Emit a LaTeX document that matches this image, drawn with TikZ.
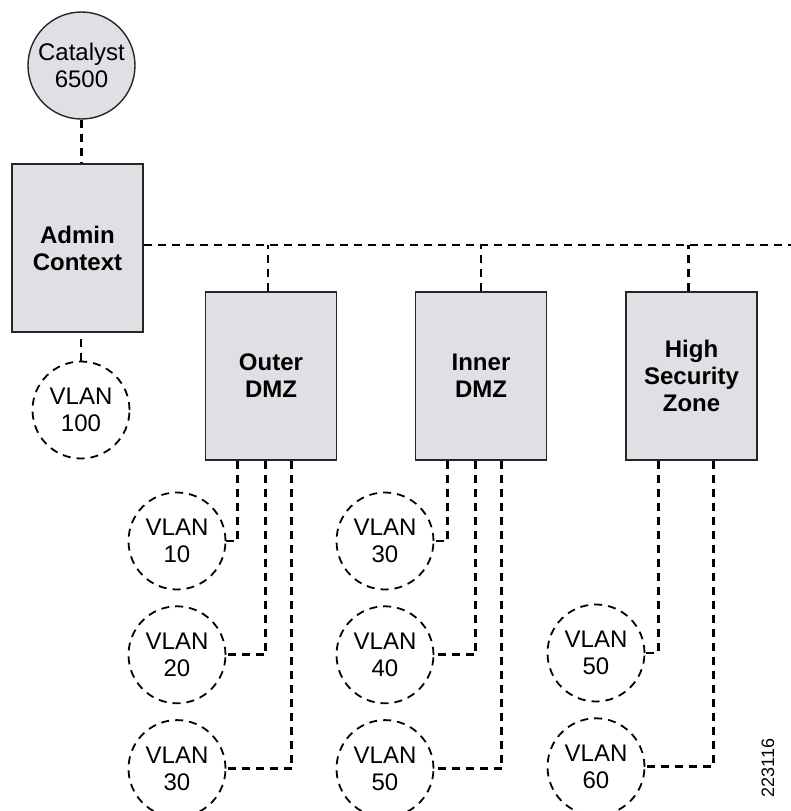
\documentclass[tikz,border=0pt]{standalone}
\usepackage{fontspec}
\setmainfont{Liberation Sans}
\usetikzlibrary{positioning}

\definecolor{boxgray}{RGB}{223,224,228}

\tikzset{
  zone/.style={draw=black!85, line width=0.8pt, fill=boxgray, minimum width=65.5pt,
    minimum height=84pt, inner sep=0pt, align=center,
    font=\bfseries\fontsize{12}{13.5}\selectfont},
  switch/.style={circle, draw=black!85, line width=0.7pt, fill=boxgray, minimum size=53.5pt,
    inner sep=0pt, align=center, font=\fontsize{12}{13.5}\selectfont},
  vlan/.style={circle, draw, line width=0.9pt, dash pattern=on 4pt off 3pt, minimum size=48.5pt,
    inner sep=0pt, align=center, font=\fontsize{12}{13.5}\selectfont},
  link/.style={line width=1.4pt, dash pattern=on 4pt off 3pt},
}

\begin{document}
\begin{tikzpicture}[x=0.5pt, y=-0.5pt]
  \useasboundingbox (0,0) rectangle (791,811);

  % Contextes
  \node[switch] (cat) at (81.5,65.5) {Catalyst\\6500};
  \node[zone] (admin) at (77.5,248) {Admin\\Context};
  \node[zone] (outer) at (271,376) {Outer\\DMZ};
  \node[zone] (inner) at (481,376) {Inner\\DMZ};
  \node[zone] (high) at (691.5,376) {High\\Security\\Zone};
  \coordinate (busend) at (791,245);

  % VLANs
  \node[vlan] (v100) at (81,410) {VLAN\\100};
  \node[vlan] (o10) at (177,541) {VLAN\\10};
  \node[vlan, below=7.5pt of o10] (o20) {VLAN\\20};
  \node[vlan, below=7.5pt of o20] (o30) {VLAN\\30};
  \node[vlan] (i30) at (385,541) {VLAN\\30};
  \node[vlan, below=7.5pt of i30] (i40) {VLAN\\40};
  \node[vlan, below=7.5pt of i40] (i50) {VLAN\\50};
  \node[vlan] (h50) at (596,653) {VLAN\\50};
  \node[vlan, below=7.5pt of h50] (h60) {VLAN\\60};

  \node[rotate=90, font=\fontsize{9}{10}\selectfont] (fig) at (768,768) {223116};

  % Liaisons
  \draw[link] (cat) -- (cat |- admin.north);
  \draw[link] (v100) -- (v100 |- admin.south);
  \draw[link] (admin.east |- busend) -- (busend);
  \draw[link] ([xshift=-1.5pt]outer.north) -- ([xshift=-1.5pt]outer.north |- busend);
  \draw[link] (inner.north) -- (inner.north |- busend);
  \draw[link] ([xshift=-1.5pt]high.north) -- ([xshift=-1.5pt]high.north |- busend);

  \draw[link] ([xshift=16.5pt]outer.south west) |- (o10);
  \draw[link] ([xshift=30.5pt]outer.south west) |- (o20);
  \draw[link] ([xshift=43.5pt]outer.south west) |- (o30);
  \draw[link] ([xshift=16.5pt]inner.south west) |- (i30);
  \draw[link] ([xshift=30.5pt]inner.south west) |- (i40);
  \draw[link] ([xshift=43.5pt]inner.south west) |- (i50);
  \draw[link] ([xshift=16.5pt]high.south west) |- (h50);
  \draw[link] ([xshift=44pt]high.south west) |- (h60);
\end{tikzpicture}
\end{document}
